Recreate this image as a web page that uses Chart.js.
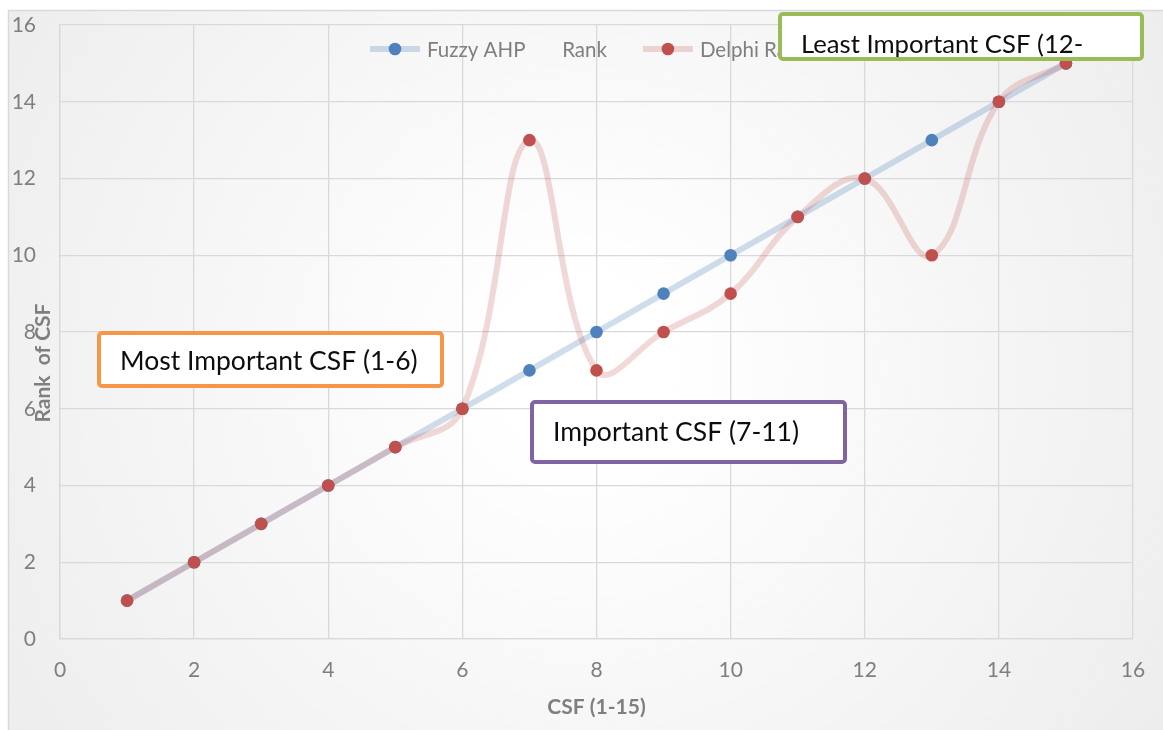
<!DOCTYPE html>
<html>
<head>
<meta charset="utf-8">
<title>CSF ranking</title>
<script src="https://cdn.jsdelivr.net/npm/chart.js@4.4.1/dist/chart.umd.min.js"></script>
<style>
  html, body { margin: 0; padding: 0; background: #ffffff; }
  #wrap { position: relative; width: 1163px; height: 730px; }
</style>
</head>
<body>
<div id="wrap"><canvas id="chart"></canvas></div>
<script>
// ---- data ----
const csf = [1, 2, 3, 4, 5, 6, 7, 8, 9, 10, 11, 12, 13, 14, 15];
const fuzzyAhpRank = [1, 2, 3, 4, 5, 6, 7, 8, 9, 10, 11, 12, 13, 14, 15];
const delphiRank = [1, 2, 3, 4, 5, 6, 13, 7, 8, 9, 11, 12, 10, 14, 15];
const seriesNames = ['Fuzzy AHP       Rank', 'Delphi Rank'];
const xAxisTitle = 'CSF (1-15)';
const yAxisTitle = 'Rank  of CSF';
const groupLabels = ['Most Important CSF (1-6)', 'Important CSF (7-11)', 'Least Important CSF (12-'];

// ---- styling ----
const FONT = 'Lato, "Open Sans", sans-serif';
const GREY = '#7f7f7f';
const GRID = '#d9d9d9';
const blueMarker = '#4f81bd';
const blueLine = 'rgba(79,129,189,0.27)';
const redMarker = '#c0504d';
const redLine = 'rgba(192,80,77,0.22)';
const MARKER_RADIUS = 6.3;

const toPoints = (xs, ys) => xs.map((x, i) => ({ x: x, y: ys[i] }));

// framed background with a soft light-grey vignette
const backdrop = {
  id: 'backdrop',
  beforeDraw(chart) {
    const { ctx, width, height } = chart;
    ctx.save();
    const grad = ctx.createRadialGradient(width * 0.5, height * 0.5, 80, width * 0.5, height * 0.5, 720);
    grad.addColorStop(0, '#ffffff');
    grad.addColorStop(1, '#ececec');
    ctx.fillStyle = '#ffffff';
    ctx.fillRect(0, 0, width, height);
    ctx.fillStyle = grad;
    ctx.fillRect(8, 10, width, height);
    ctx.strokeStyle = '#d9d9d9';
    ctx.lineWidth = 1.5;
    ctx.strokeRect(8.5, 10.5, width + 10, height + 10);
    ctx.restore();
  }
};

// in-plot legend: line sample with a marker, then the series name
const inlineLegend = {
  id: 'inlineLegend',
  afterDatasetsDraw(chart, args, opts) {
    const { ctx, chartArea } = chart;
    ctx.save();
    ctx.font = opts.size + 'px ' + FONT;
    ctx.textBaseline = 'middle';
    ctx.textAlign = 'left';
    let x = chartArea.left + opts.offsetX;
    const y = opts.y;
    chart.data.datasets.forEach(ds => {
      ctx.strokeStyle = ds.borderColor;
      ctx.lineWidth = 6;
      ctx.beginPath(); ctx.moveTo(x, y); ctx.lineTo(x + 50, y); ctx.stroke();
      ctx.fillStyle = ds.pointBackgroundColor;
      ctx.beginPath(); ctx.arc(x + 25, y, MARKER_RADIUS, 0, Math.PI * 2); ctx.fill();
      ctx.fillStyle = GREY;
      ctx.fillText(ds.label, x + 57, y + 1);
      x += 57 + ctx.measureText(ds.label).width + 36;
    });
    ctx.restore();
  }
};

// callout boxes and the vertical axis caption
const callouts = {
  id: 'callouts',
  afterDraw(chart, args, opts) {
    const { ctx } = chart;
    ctx.save();
    opts.boxes.forEach(b => {
      ctx.beginPath();
      ctx.roundRect(b.x, b.y, b.w, b.h, 3);
      ctx.fillStyle = '#ffffff';
      ctx.fill();
      ctx.lineWidth = 4;
      ctx.strokeStyle = b.color;
      ctx.stroke();
      ctx.save();
      ctx.beginPath();
      ctx.rect(b.x, b.y, b.w, b.h);
      ctx.clip();
      ctx.fillStyle = '#0d0d0d';
      ctx.font = b.size + 'px ' + FONT;
      ctx.textBaseline = 'alphabetic';
      ctx.textAlign = 'left';
      ctx.fillText(b.text, b.x + 21, b.baseline);
      ctx.restore();
    });
    // y axis caption
    ctx.translate(opts.yTitle.x, opts.yTitle.y);
    ctx.rotate(-Math.PI / 2);
    ctx.font = 'bold 21px ' + FONT;
    ctx.fillStyle = GREY;
    ctx.textAlign = 'center';
    ctx.textBaseline = 'middle';
    ctx.fillText(opts.yTitle.text, 0, 0);
    ctx.restore();
  }
};

new Chart(document.getElementById('chart'), {
  type: 'line',
  data: {
    datasets: [
      {
        label: seriesNames[0],
        data: toPoints(csf, fuzzyAhpRank),
        borderColor: blueLine,
        backgroundColor: blueMarker,
        pointBackgroundColor: blueMarker,
        pointBorderColor: blueMarker,
        pointBorderWidth: 0,
        borderWidth: 6,
        pointRadius: MARKER_RADIUS,
        tension: 0.4,
        order: 1
      },
      {
        label: seriesNames[1],
        data: toPoints(csf, delphiRank),
        borderColor: redLine,
        backgroundColor: redMarker,
        pointBackgroundColor: redMarker,
        pointBorderColor: redMarker,
        pointBorderWidth: 0,
        borderWidth: 6,
        pointRadius: MARKER_RADIUS,
        tension: 0.4,
        order: 0
      }
    ]
  },
  options: {
    responsive: true,
    maintainAspectRatio: false,
    animation: false,
    layout: { padding: { top: 25, right: 30, left: 0, bottom: 0 } },
    elements: { point: { pointStyle: 'circle', borderWidth: 0 } },
    scales: {
      x: {
        type: 'linear',
        min: 0, max: 16,
        afterFit(scale) { scale.height = 91; scale.paddingLeft = 0; scale.paddingRight = 0; },
        ticks: { stepSize: 2, color: GREY, padding: 19, font: { family: FONT, size: 21 } },
        grid: { color: GRID, lineWidth: 1.3, drawTicks: false },
        border: { color: GRID, width: 1.3 },
        title: { display: true, text: xAxisTitle, color: GREY, padding: { bottom: 10 }, font: { family: FONT, size: 21, weight: 'bold' } }
      },
      y: {
        min: 0, max: 16,
        afterFit(scale) { scale.width = 60; scale.paddingTop = 0; scale.paddingBottom = 0; },
        ticks: { stepSize: 2, color: GREY, padding: 24, font: { family: FONT, size: 21 } },
        grid: { color: GRID, lineWidth: 1.3, drawTicks: false },
        border: { color: GRID, width: 1.3 }
      }
    },
    plugins: {
      tooltip: { enabled: false },
      legend: { display: false },
      inlineLegend: { offsetX: 310, y: 49, size: 20.5 },
      callouts: {
        boxes: [
          { text: groupLabels[0], x: 99, y: 333, w: 343, h: 53, baseline: 370, size: 26.5, color: '#f79646' },
          { text: groupLabels[1], x: 532, y: 402, w: 313, h: 60, baseline: 441, size: 26.5, color: '#8064a2' },
          { text: groupLabels[2], x: 780, y: 14, w: 362, h: 45, baseline: 53, size: 25.7, color: '#9bbb59' }
        ],
        yTitle: { text: yAxisTitle, x: 43, y: 363 }
      }
    }
  },
  plugins: [backdrop, inlineLegend, callouts]
});
</script>
</body>
</html>
